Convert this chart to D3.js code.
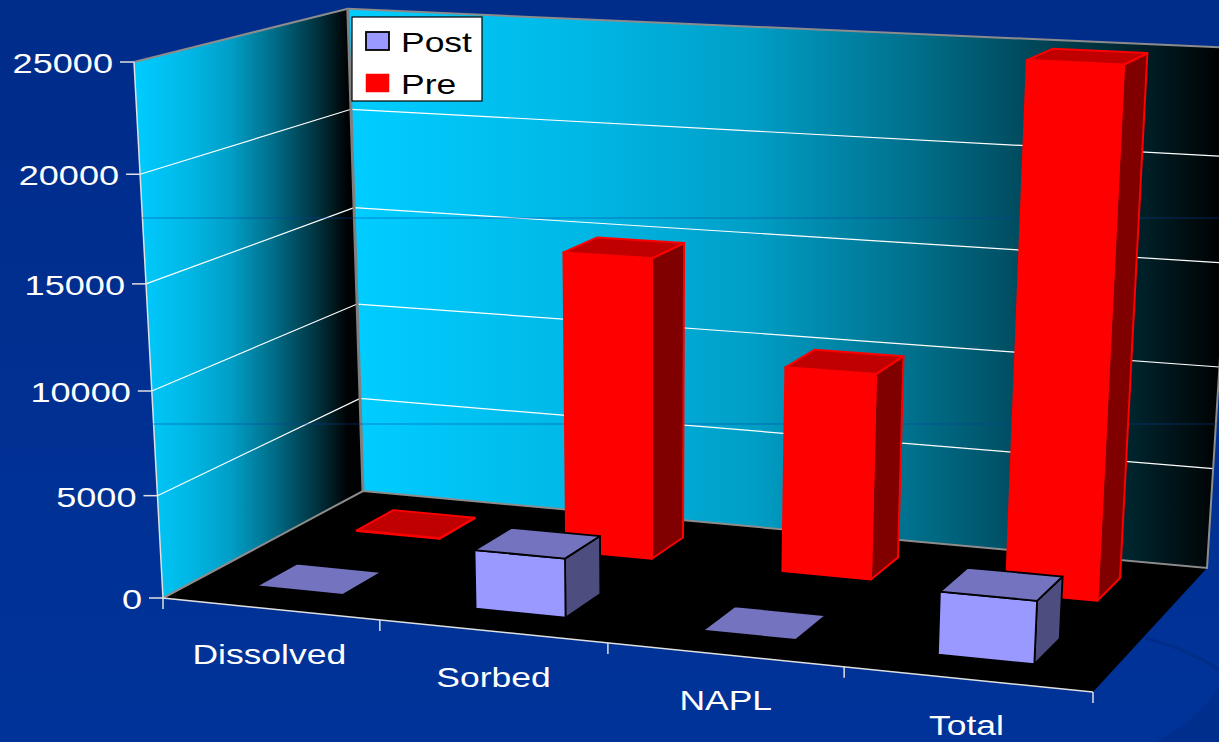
<!DOCTYPE html>
<html>
<head>
<meta charset="utf-8">
<script src="https://cdn.jsdelivr.net/npm/d3@7.9.0/dist/d3.min.js"></script>
<style>
html, body { margin: 0; padding: 0; background: #003399; overflow: hidden; }
text { font-family: "Liberation Sans", Arial, sans-serif; }
</style>
</head>
<body>
<div id="chart"></div>
<script>
const categories = ["Dissolved", "Sorbed", "NAPL", "Total"];
const seriesNames = ["Post", "Pre"];
const postValues = [30, 2850, 30, 2950];
const preValues = [30, 14900, 10100, 25000];
const yTicks = [0, 5000, 10000, 15000, 20000, 25000];

const width = 1219;
const height = 742;

// chart box corners on screen, floor first
const floorQuad = [[163, 598], [1093, 692], [1207, 568], [363, 491]];
const vanish = [650, 9600]; // uprights lean toward this point
const topFrontLeftY = 62;

// unit square -> quad homography
function squareToQuad(q) {
    const [[x0, y0], [x1, y1], [x2, y2], [x3, y3]] = q;
    const dx1 = x1 - x2, dx2 = x3 - x2, sx = x0 - x1 + x2 - x3;
    const dy1 = y1 - y2, dy2 = y3 - y2, sy = y0 - y1 + y2 - y3;
    const det = dx1 * dy2 - dx2 * dy1;
    const g = (sx * dy2 - dx2 * sy) / det;
    const h = (dx1 * sy - sx * dy1) / det;
    return [x1 - x0 + g * x1, x3 - x0 + h * x3, x0,
            y1 - y0 + g * y1, y3 - y0 + h * y3, y0,
            g, h, 1];
}
const H = squareToQuad(floorQuad);
const lift = (floorQuad[0][1] - topFrontLeftY) / (topFrontLeftY - vanish[1]);

// u along categories, v into the depth, n = 0..1 of the value axis
function project(u, v, n) {
    const l = lift * n * (1 + 0.016 * u - 0.006 * v); // small fit to the walls
    const x = H[0] * u + H[1] * v + H[2] + l * vanish[0];
    const y = H[3] * u + H[4] * v + H[5] + l * vanish[1];
    const w = H[6] * u + H[7] * v + H[8] + l;
    return [x / w, y / w];
}

const uScale = d3.scaleBand().domain(categories).range([-0.004, 0.996]).paddingInner(0.6).paddingOuter(0.3);
const vScale = d3.scaleBand().domain(seriesNames).range([0, 1]).paddingInner(0.61).paddingOuter(0.29);
const yScale = d3.scaleLinear().domain([0, 25000]).range([0, 1]);

const svg = d3.select("#chart").append("svg")
    .attr("width", width)
    .attr("height", height)
    .attr("viewBox", `0 0 ${width} ${height}`)
    .style("display", "block");

const defs = svg.append("defs");

const bg = defs.append("linearGradient").attr("id", "bg").attr("x1", 0).attr("x2", 0).attr("y1", 0).attr("y2", 1);
bg.append("stop").attr("offset", "0%").attr("stop-color", "#002c8a");
bg.append("stop").attr("offset", "100%").attr("stop-color", "#003399");

// cyan fading out to black
const wallStops = [[0, 1], [0.25, 0.9], [0.45, 0.78], [0.65, 0.54], [0.86, 0.24], [1, 0.01]];
function wallGradient(id, x1, x2) {
    const g = defs.append("linearGradient").attr("id", id)
        .attr("gradientUnits", "userSpaceOnUse")
        .attr("x1", x1).attr("x2", x2).attr("y1", 0).attr("y2", 0);
    wallStops.forEach(([t, f]) => {
        g.append("stop").attr("offset", t).attr("stop-color", d3.rgb(0, 204 * f, 255 * f));
    });
}
wallGradient("leftWall", project(0, 0, 1)[0], project(0, 1, 1)[0]);
wallGradient("backWall", project(0, 1, 0)[0], width);

svg.append("rect").attr("width", width).attr("height", height).attr("fill", "url(#bg)");

// faint shapes of the slide background, lower right
svg.append("path").attr("d", "M1155,742 Q1200,720 1219,685 L1219,742 Z").attr("fill", "#002e8c");
svg.append("path").attr("d", "M1145,638 Q1190,650 1219,670").attr("fill", "none")
    .attr("stroke", "#002d8a").attr("stroke-width", 3);

const line = d3.line();
function poly(g, pts, fill, stroke, sw) {
    return g.append("path")
        .attr("d", line(pts) + "Z")
        .attr("fill", fill)
        .attr("stroke", stroke || "none")
        .attr("stroke-width", sw || 0)
        .attr("stroke-linejoin", "round");
}

const box = svg.append("g");
poly(box, [project(0, 0, 0), project(0, 1, 0), project(0, 1, 1), project(0, 0, 1)], "url(#leftWall)");
poly(box, [project(0, 1, 0), project(1, 1, 0), project(1, 1, 1), project(0, 1, 1)], "url(#backWall)");
poly(box, [project(0, 0, 0), project(1, 0, 0), project(1, 1, 0), project(0, 1, 0)], "#000000");

// gridlines on both walls
yTicks.filter(d => d > 0 && d < 25000).forEach(d => {
    const n = yScale(d);
    box.append("path")
        .attr("d", line([project(0, 0, n), project(0, 1, n), project(1, 1, n)]))
        .attr("fill", "none").attr("stroke", "#ffffff").attr("stroke-width", 1.2);
});

// wall outline
const edge = (pts, c, w) => box.append("path").attr("d", line(pts)).attr("fill", "none").attr("stroke", c).attr("stroke-width", w);
edge([project(0, 0, 1), project(0, 1, 1), project(1, 1, 1)], "#8c8c8c", 2);
edge([project(0, 1, 1), project(0, 1, 0)], "#808080", 3);
edge([project(0, 0, 0), project(0, 1, 0), project(1, 1, 0), project(1, 1, 1)], "#8c8c8c", 2);
edge([project(0, 0, 1), project(0, 0, 0), project(1, 0, 0)], "#e0e0e0", 1.5);

// faint horizontal bands of the slide showing through
[218, 424].forEach(y => {
    svg.append("line").attr("x1", 142).attr("x2", width).attr("y1", y).attr("y2", y)
        .attr("stroke", "#0a3f9f").attr("stroke-width", 1).attr("opacity", 0.5);
});

// bars
const palette = {
    Post: { front: "#9999ff", side: "#4d4d80", top: "#7373bf", stroke: "#000000", sw: 1.8 },
    Pre: { front: "#ff0000", side: "#800000", top: "#c00000", stroke: "#ff0000", sw: 2 }
};
const rows = [
    { name: "Pre", values: preValues },
    { name: "Post", values: postValues }
];
const bars = svg.append("g");
rows.forEach(row => {
    const c = palette[row.name];
    const v0 = vScale(row.name), v1 = v0 + vScale.bandwidth();
    row.values.forEach((val, i) => {
        const u0 = uScale(categories[i]), u1 = u0 + uScale.bandwidth();
        const n = yScale(val);
        poly(bars, [project(u1, v0, 0), project(u1, v1, 0), project(u1, v1, n), project(u1, v0, n)], c.side, c.stroke, c.sw);
        poly(bars, [project(u0, v0, 0), project(u1, v0, 0), project(u1, v0, n), project(u0, v0, n)], c.front, c.stroke, c.sw);
        poly(bars, [project(u0, v0, n), project(u1, v0, n), project(u1, v1, n), project(u0, v1, n)], c.top, c.stroke, c.sw);
    });
});

// value axis
const stretch = 1.29;
const axis = svg.append("g");
yTicks.forEach(d => {
    const [x, y] = project(0, 0, yScale(d));
    axis.append("line").attr("x1", x - 14).attr("x2", x).attr("y1", y).attr("y2", y)
        .attr("stroke", "#e0e0e0").attr("stroke-width", 1.5);
    axis.append("text")
        .attr("transform", `translate(${x - 21},${y + 11}) scale(${stretch},1)`)
        .attr("text-anchor", "end")
        .attr("font-size", 28)
        .attr("fill", "#ffffff")
        .text(d);
});

// category axis, inner ticks sit a little left of the even split
d3.range(0, 5).forEach(i => {
    const u = i === 0 || i === 4 ? i / 4 : i / 4 - 0.004;
    const [x, y] = project(u, 0, 0);
    axis.append("line").attr("x1", x).attr("x2", x).attr("y1", y).attr("y2", y + 11)
        .attr("stroke", "#e0e0e0").attr("stroke-width", 1.5);
});
categories.forEach((c, i) => {
    const [x, y] = project((i + 0.5) / 4, 0, 0);
    axis.append("text")
        .attr("transform", `translate(${x - 3},${y + 55}) scale(${stretch},1)`)
        .attr("text-anchor", "middle")
        .attr("font-size", 27.5)
        .attr("fill", "#ffffff")
        .text(c);
});

// legend
const legend = svg.append("g").attr("transform", "translate(352,17)");
legend.append("rect").attr("width", 130).attr("height", 84).attr("fill", "#ffffff").attr("stroke", "#000000").attr("stroke-width", 1.2);
seriesNames.forEach((s, i) => {
    const c = palette[s];
    legend.append("rect").attr("x", 14).attr("y", 15 + i * 42).attr("width", 23).attr("height", 18)
        .attr("fill", c.front).attr("stroke", c.stroke).attr("stroke-width", s === "Post" ? 1.8 : 0.5);
    legend.append("text")
        .attr("transform", `translate(49,${35 + i * 42}) scale(${stretch},1)`)
        .attr("font-size", 27.5)
        .attr("fill", "#000000")
        .text(s);
});
</script>
</body>
</html>
